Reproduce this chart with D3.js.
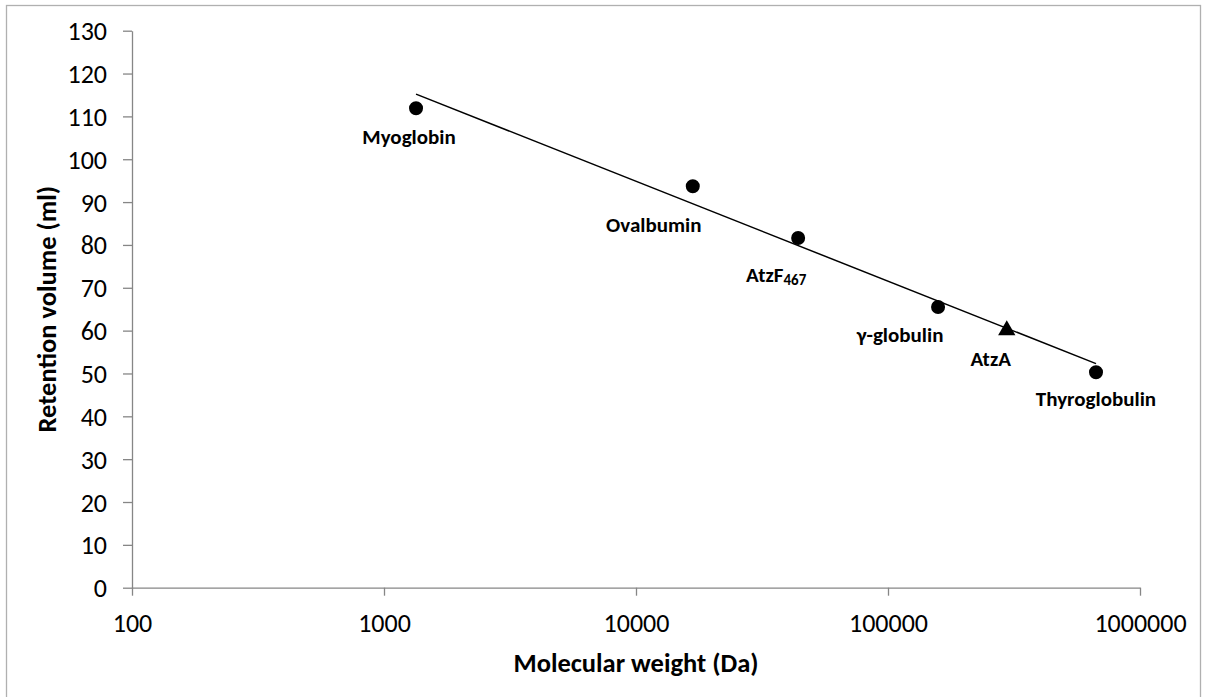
<!DOCTYPE html>
<html><head><meta charset="utf-8">
<script src="https://cdn.jsdelivr.net/npm/d3@7"></script>
<style>
html,body{margin:0;padding:0;background:#fff;}
svg{display:block;font-family:Carlito, Lato, "Open Sans", sans-serif;}
</style></head>
<body>
<svg id="c" width="1208" height="697"></svg>
<script>
// Data
const proteins = ["Myoglobin", "Ovalbumin", "AtzF", "γ-globulin", "AtzA", "Thyroglobulin"];
const labelSubs = ["", "", "467", "", "", ""];
const molWeight = [1340, 16800, 44000, 158000, 296000, 669000];
const retention = [111.9, 93.7, 81.6, 65.5, 60.1, 50.3];
const markerType = ["circle", "circle", "circle", "circle", "triangle", "circle"];
const trendX = [1340, 669000];
const trendY = [115.2, 52.3];
const yTicks = [0,10,20,30,40,50,60,70,80,90,100,110,120,130];
const xTicks = [100, 1000, 10000, 100000, 1000000];

// label offsets (px) relative to marker
const labelOffsets = [[-7,29],[-39,39],[-22,37],[-38,28],[-16,29],[0,27]];

const svg = d3.select("#c");
const L = 132, R = 1140, T = 30.7, B = 587.7;
const axisColor = "#868686";

svg.append("rect").attr("x",6.5).attr("y",5.5).attr("width",1194).attr("height",720)
  .attr("fill","#fff").attr("stroke","#b0b0b0").attr("stroke-width",1.3);

const x = d3.scaleLog().domain([100,1000000]).range([L,R]);
const y = d3.scaleLinear().domain([0,130]).range([B,T]);

const yAxis = svg.append("g").attr("transform",`translate(${L},0)`)
  .call(d3.axisLeft(y).tickValues(yTicks).tickFormat(d3.format("d")).tickSize(9).tickPadding(16).tickSizeOuter(0));
const xAxis = svg.append("g").attr("transform",`translate(0,${B})`)
  .call(d3.axisBottom(x).tickValues(xTicks).tickFormat(d3.format("d")).tickSize(8).tickPadding(18).tickSizeOuter(0));
[yAxis,xAxis].forEach(g=>{
  g.select(".domain").attr("stroke",axisColor).attr("stroke-width",1.3);
  g.selectAll(".tick line").attr("stroke",axisColor).attr("stroke-width",1.3);
  g.selectAll(".tick text").attr("fill","#000").style("font-size","26px").style("font-family","Carlito, Lato, sans-serif");
});
xAxis.selectAll(".tick text").attr("dy",null).attr("dominant-baseline","central").attr("y",35);
yAxis.selectAll(".tick text").attr("dy",null).attr("dominant-baseline","central");

// trend line
svg.append("path")
  .datum(trendX.map((d,i)=>[d,trendY[i]]))
  .attr("d", d3.line().x(d=>x(d[0])).y(d=>y(d[1])))
  .attr("fill","none").attr("stroke","#000").attr("stroke-width",1.5);

// markers
const pts = proteins.map((p,i)=>({p, sub:labelSubs[i], mw:molWeight[i], rv:retention[i], m:markerType[i], off:labelOffsets[i]}));
svg.selectAll("path.mk").data(pts).join("path").attr("class","mk")
  .attr("transform", d=>`translate(${x(d.mw)},${y(d.rv)})`)
  .attr("d", d=> d.m==="triangle" ? d3.symbol().type(d3.symbolTriangle).size(130)() : d3.symbol().type(d3.symbolCircle).size(154)())
  .attr("fill","#000");

// labels
const lab = svg.selectAll("text.lab").data(pts).join("text").attr("class","lab")
  .attr("x", d=>x(d.mw)+d.off[0]).attr("y", d=>y(d.rv)+d.off[1])
  .attr("text-anchor","middle").attr("dominant-baseline","central")
  .style("font-size","21px").style("font-weight","bold").attr("fill","#000");
lab.append("tspan").text(d=>d.p);
lab.filter(d=>d.sub).append("tspan").attr("dy","5").style("font-size","15px").text(d=>d.sub);

// axis titles
svg.append("text").attr("x",(L+R)/2).attr("y",663).attr("text-anchor","middle").attr("dominant-baseline","central")
  .style("font-size","26.5px").style("font-weight","bold").text("Molecular weight (Da)");
svg.append("text").attr("transform",`translate(47,${(T+B)/2}) rotate(-90)`).attr("text-anchor","middle").attr("dominant-baseline","central")
  .style("font-size","26.5px").style("font-weight","bold").text("Retention volume (ml)");
</script>
</body></html>
